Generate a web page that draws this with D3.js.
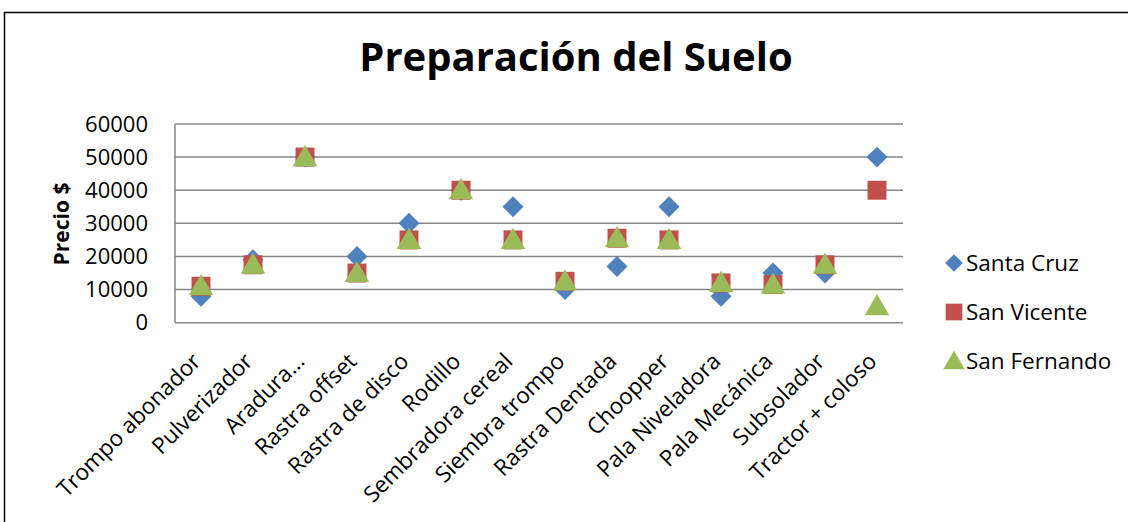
<!DOCTYPE html>
<html><head><meta charset="utf-8">
<script src="https://cdn.jsdelivr.net/npm/d3@7"></script>
<style>body{margin:0;background:#fff}svg{display:block}</style>
</head><body>
<svg id="c" width="1128" height="522"></svg>
<script>
const categories = ["Trompo abonador","Pulverizador","Aradura…","Rastra offset","Rastra de disco","Rodillo","Sembradora cereal","Siembra trompo","Rastra Dentada","Choopper","Pala Niveladora","Pala Mecánica","Subsolador","Tractor + coloso"];
const seriesNames = ["Santa Cruz","San Vicente","San Fernando"];
const santaCruz   = [8000,19000,50000,20000,30000,40000,35000,10000,17000,35000,8000,15000,15000,50000];
const sanVicente  = [11000,17500,50000,15000,25000,40000,25000,12500,25500,25000,12000,11500,17500,40000];
const sanFernando = [11000,17500,50000,15000,25000,40000,25000,12500,25500,25000,12000,11500,17500,5000];
const yTicks = [0,10000,20000,30000,40000,50000,60000];
const colors = ["#4F81BD","#C0504D","#9BBB59"];
const shapes = [d3.symbolDiamond2, d3.symbolSquare, d3.symbolTriangle];

const font = "'Open Sans', sans-serif";
const svg = d3.select("#c");
svg.append("rect").attr("x",4.5).attr("y",12.5).attr("width",1200).attr("height",600)
  .attr("fill","#fff").attr("stroke","#000").attr("stroke-width",1.5);

const m = {l:175, r:903, t:124, b:322.7};
const x = d3.scaleBand().domain(categories).range([m.l,m.r]);
const y = d3.scaleLinear().domain([0,60000]).range([m.b,m.t]);

// gridlines
svg.append("g").selectAll("line").data(yTicks).join("line")
  .attr("x1",m.l).attr("x2",m.r).attr("y1",d=>y(d)).attr("y2",d=>y(d))
  .attr("stroke","#868686").attr("stroke-width",1.5);
svg.append("line").attr("x1",m.l).attr("x2",m.l).attr("y1",m.t).attr("y2",m.b)
  .attr("stroke","#868686").attr("stroke-width",1.5);

// y axis labels
const yAxis = svg.append("g").attr("transform",`translate(${m.l},0)`)
  .call(d3.axisLeft(y).tickValues(yTicks).tickFormat(d3.format("d")).tickSize(0).tickPadding(27));
yAxis.select(".domain").remove();
yAxis.selectAll("text").attr("font-family",font).attr("font-size",22).attr("fill","#000");

// x axis labels
const xAxis = svg.append("g").attr("transform",`translate(0,${m.b})`)
  .call(d3.axisBottom(x).tickSize(0).tickPadding(0));
xAxis.select(".domain").remove();
xAxis.selectAll("text").attr("font-family",font).attr("font-size",22.5).attr("fill","#000")
  .attr("text-anchor","end").attr("dy",0)
  .attr("transform","translate(1,40) rotate(-45)");

// title
svg.append("text").attr("x",576).attr("y",71).attr("text-anchor","middle")
  .attr("font-family",font).attr("font-weight","bold").attr("font-size",40).text("Preparación del Suelo");

// y title
svg.append("text").attr("transform","translate(69,224) rotate(-90)").attr("text-anchor","middle")
  .attr("font-family",font).attr("font-weight","bold").attr("font-size",21).text("Precio $");

// series
const all = [santaCruz, sanVicente, sanFernando];
const sizes = [280, 360, 260];
all.forEach((vals,i)=>{
  svg.append("g").selectAll("path").data(vals).join("path")
    .attr("d", d3.symbol().type(shapes[i]).size(sizes[i]))
    .attr("transform",(d,j)=>`translate(${x(categories[j])+x.bandwidth()/2},${y(d) + (i===2?2:0)})`)
    .attr("fill",colors[i]);
});

// legend
const lg = svg.append("g");
seriesNames.forEach((n,i)=>{
  const yy = 263 + i*49;
  lg.append("path").attr("d", d3.symbol().type(shapes[i]).size([200,280,200][i]))
    .attr("transform",`translate(954,${yy + (i===2?2:0)})`).attr("fill",colors[i]);
  lg.append("text").attr("x",966).attr("y",yy).attr("dy","0.35em")
    .attr("font-family",font).attr("font-size",22.5).text(n);
});
</script>
</body></html>
